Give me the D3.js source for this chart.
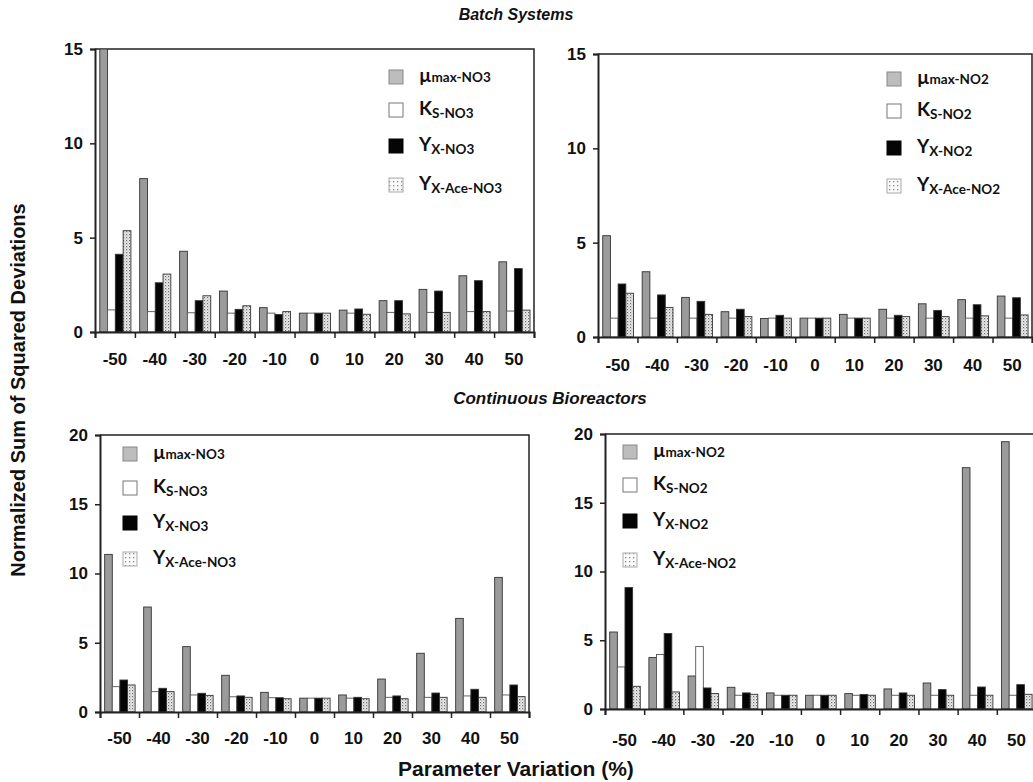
<!DOCTYPE html>
<html><head><meta charset="utf-8">
<script src="https://cdn.jsdelivr.net/npm/d3@7"></script>
<style>body{margin:0;background:#fff}svg{display:block}</style>
</head><body>
<svg id="c" width="1033" height="782"></svg>
<script>
// ---------- data ----------
const categories = ["-50","-40","-30","-20","-10","0","10","20","30","40","50"];
const seriesKeys = ["mu","ks","yx","yace"];

const batchNO3_mu   = [15.0, 8.13, 4.28, 2.17, 1.29, 1.0, 1.16, 1.66, 2.26, 2.98, 3.72];
const batchNO3_ks   = [1.17, 1.08, 1.02, 1.0, 1.0, 1.0, 1.0, 1.04, 1.04, 1.08, 1.11];
const batchNO3_yx   = [4.12, 2.61, 1.66, 1.2, 0.93, 1.0, 1.22, 1.66, 2.17, 2.72, 3.36];
const batchNO3_yace = [5.37, 3.07, 1.92, 1.39, 1.08, 1.0, 0.94, 0.96, 1.04, 1.08, 1.16];

const batchNO2_mu   = [5.37, 3.46, 2.1, 1.34, 0.98, 1.0, 1.2, 1.47, 1.76, 1.98, 2.17];
const batchNO2_ks   = [1.0, 1.0, 1.0, 1.0, 1.0, 1.0, 1.0, 1.0, 1.0, 1.0, 1.0];
const batchNO2_yx   = [2.81, 2.23, 1.89, 1.47, 1.15, 1.0, 1.0, 1.15, 1.41, 1.71, 2.08];
const batchNO2_yace = [2.32, 1.57, 1.2, 1.08, 1.0, 1.0, 1.0, 1.08, 1.08, 1.12, 1.17];

const contNO3_mu   = [11.38, 7.58, 4.72, 2.65, 1.42, 1.0, 1.23, 2.38, 4.24, 6.76, 9.72];
const contNO3_ks   = [1.83, 1.47, 1.23, 1.1, 1.03, 1.0, 1.0, 1.06, 1.06, 1.16, 1.23];
const contNO3_yx   = [2.31, 1.71, 1.35, 1.16, 1.03, 1.0, 1.06, 1.16, 1.37, 1.64, 1.95];
const contNO3_yace = [1.95, 1.47, 1.2, 1.06, 0.96, 1.0, 0.96, 0.96, 1.06, 1.06, 1.11];

const contNO2_mu   = [5.6, 3.74, 2.4, 1.58, 1.17, 1.0, 1.12, 1.46, 1.89, 17.55, 19.44];
const contNO2_ks   = [3.06, 3.96, 4.54, 1.0, 1.0, 1.0, 1.0, 1.0, 1.0, 1.0, 1.0];
const contNO2_yx   = [8.83, 5.49, 1.53, 1.17, 1.0, 1.0, 1.05, 1.17, 1.41, 1.6, 1.77];
const contNO2_yace = [1.65, 1.24, 1.12, 1.07, 1.0, 1.0, 1.0, 1.0, 1.0, 1.0, 1.07];

const yTicksBatch = [0, 5, 10, 15];
const yTicksCont  = [0, 5, 10, 15, 20];

const legendNO3 = [["\u00B5","max-NO3"],["K","S-NO3"],["Y","X-NO3"],["Y","X-Ace-NO3"]];
const legendNO2 = [["\u00B5","max-NO2"],["K","S-NO2"],["Y","X-NO2"],["Y","X-Ace-NO2"]];

// ---------- layout ----------
const panels = [
  {series:[batchNO3_mu,batchNO3_ks,batchNO3_yx,batchNO3_yace], ymax:15, ticks:yTicksBatch, legend:legendNO3,
   left:95, right:534, top:49, bottom:332, labPad:21, lx:389, ly:[77,110,146,185]},
  {series:[batchNO2_mu,batchNO2_ks,batchNO2_yx,batchNO2_yace], ymax:15, ticks:yTicksBatch, legend:legendNO2,
   left:598, right:1032, top:54, bottom:337, labPad:22, lx:887, ly:[79,111,148,186]},
  {series:[contNO3_mu,contNO3_ks,contNO3_yx,contNO3_yace], ymax:20, ticks:yTicksCont, legend:legendNO3,
   left:100, right:529, top:435, bottom:712, labPad:20, lx:123, ly:[454,488,523,559]},
  {series:[contNO2_mu,contNO2_ks,contNO2_yx,contNO2_yace], ymax:20, ticks:yTicksCont, legend:legendNO2,
   left:605, right:1036, top:434, bottom:709, labPad:25, lx:623, ly:[452,485,521,560]}
];

const svg = d3.select("#c");
const defs = svg.append("defs");
const pat = defs.append("pattern").attr("id","dots").attr("width",3).attr("height",3).attr("patternUnits","userSpaceOnUse");
pat.append("rect").attr("width",3).attr("height",3).attr("fill","#ececec");
pat.append("rect").attr("x",0).attr("y",0).attr("width",1.2).attr("height",1.2).attr("fill","#6d6d6d");
pat.append("rect").attr("x",1.5).attr("y",1.5).attr("width",1).attr("height",1).attr("fill","#9a9a9a");
const pat2 = defs.append("pattern").attr("id","dotsL").attr("width",4).attr("height",4).attr("patternUnits","userSpaceOnUse");
pat2.append("rect").attr("width",4).attr("height",4).attr("fill","#fafafa");
pat2.append("rect").attr("x",1).attr("y",1).attr("width",1.3).attr("height",1.3).attr("fill","#8a8a8a");

const fills = {mu:"#9b9b9b", ks:"#ffffff", yx:"#050505", yace:"url(#dots)"};
const legFills = {mu:"#bdbdbd", ks:"#ffffff", yx:"#050505", yace:"url(#dotsL)"};
const legStroke = {mu:"#888", ks:"#777", yx:"#050505", yace:"#aaa"};
const bf = "Arial, 'Liberation Sans', sans-serif";

panels.forEach((p,pi) => {
  const g = svg.append("g");
  const x0 = d3.scaleBand().domain(categories).range([p.left,p.right]).padding(0);
  const bw = x0.bandwidth();
  const x1 = d3.scaleBand().domain(seriesKeys).range([0.12*bw, 0.9*bw]).padding(0);
  const y = d3.scaleLinear().domain([0,p.ymax]).range([p.bottom,p.top]);

  g.append("path").attr("d",`M${p.left},${p.top}H${p.right}V${p.bottom}`)
    .attr("fill","none").attr("stroke","#222").attr("stroke-width",1.5);

  const clip = "clip"+pi;
  defs.append("clipPath").attr("id",clip).append("rect")
    .attr("x",p.left).attr("y",p.top).attr("width",p.right-p.left).attr("height",p.bottom-p.top);
  const bars = g.append("g").attr("clip-path",`url(#${clip})`);
  seriesKeys.forEach((k,si) => {
    bars.selectAll(null).data(p.series[si]).join("rect")
      .attr("x",(d,i)=>x0(categories[i])+x1(k))
      .attr("width",x1.bandwidth())
      .attr("y",d=>y(d))
      .attr("height",d=>y(0)-y(d))
      .attr("fill",fills[k])
      .attr("stroke",k==="ks" ? "#555" : "#333")
      .attr("stroke-width",0.9);
  });

  const ya = g.append("g").attr("transform",`translate(${p.left},0)`)
    .call(d3.axisLeft(y).tickValues(p.ticks).tickSize(5).tickPadding(7).tickFormat(d3.format("d")));
  ya.select(".domain").attr("stroke","#222").attr("stroke-width",2);
  ya.selectAll(".tick line").attr("stroke","#222").attr("stroke-width",1.5);
  ya.selectAll("text").attr("font-family",bf).attr("font-weight","bold")
    .attr("font-size",17).attr("fill","#111");

  const xb = d3.scaleLinear().domain([0,categories.length]).range([p.left,p.right]);
  const xa = g.append("g").attr("transform",`translate(0,${p.bottom})`)
    .call(d3.axisBottom(xb).tickValues(d3.range(categories.length+1)).tickSize(6).tickFormat(""));
  xa.select(".domain").attr("stroke","#222").attr("stroke-width",2);
  xa.selectAll(".tick line").attr("stroke","#222").attr("stroke-width",1.5);
  const xl = g.append("g").attr("transform",`translate(0,${p.bottom})`)
    .call(d3.axisBottom(x0).tickSize(0).tickPadding(p.labPad));
  xl.select(".domain").remove();
  xl.selectAll("text").attr("font-family",bf).attr("font-weight","bold")
    .attr("font-size",17).attr("fill","#111");

  const lg = g.append("g");
  seriesKeys.forEach((k,si) => {
    const cy = p.ly[si];
    lg.append("rect").attr("x",p.lx).attr("y",cy-7).attr("width",14).attr("height",14)
      .attr("fill",legFills[k]).attr("stroke",legStroke[k]).attr("stroke-width",1);
    const t = lg.append("text").attr("x",p.lx+30).attr("y",cy+5)
      .attr("font-family","Lato, 'Open Sans', sans-serif").attr("font-weight","bold").attr("fill","#111");
    t.append("tspan").attr("font-size",19).text(p.legend[si][0]);
    t.append("tspan").attr("font-size",13.5).attr("dy",si===0?0:3).text(p.legend[si][1]);
  });
});

svg.append("text").attr("x",516).attr("y",20).attr("text-anchor","middle").attr("font-family",bf)
  .attr("font-weight","bold").attr("font-style","italic").attr("font-size",16).attr("fill","#111").text("Batch Systems");
svg.append("text").attr("x",550).attr("y",404).attr("text-anchor","middle").attr("font-family",bf)
  .attr("font-weight","bold").attr("font-style","italic").attr("font-size",17).attr("fill","#111").text("Continuous Bioreactors");
svg.append("text").attr("x",516).attr("y",776).attr("text-anchor","middle").attr("font-family",bf)
  .attr("font-weight","bold").attr("font-size",21).attr("fill","#111").text("Parameter Variation (%)");
svg.append("text").attr("transform","translate(25,390) rotate(-90)").attr("text-anchor","middle").attr("font-family",bf)
  .attr("font-weight","bold").attr("font-size",20).attr("fill","#111").text("Normalized Sum of Squared Deviations");
</script>
</body></html>
